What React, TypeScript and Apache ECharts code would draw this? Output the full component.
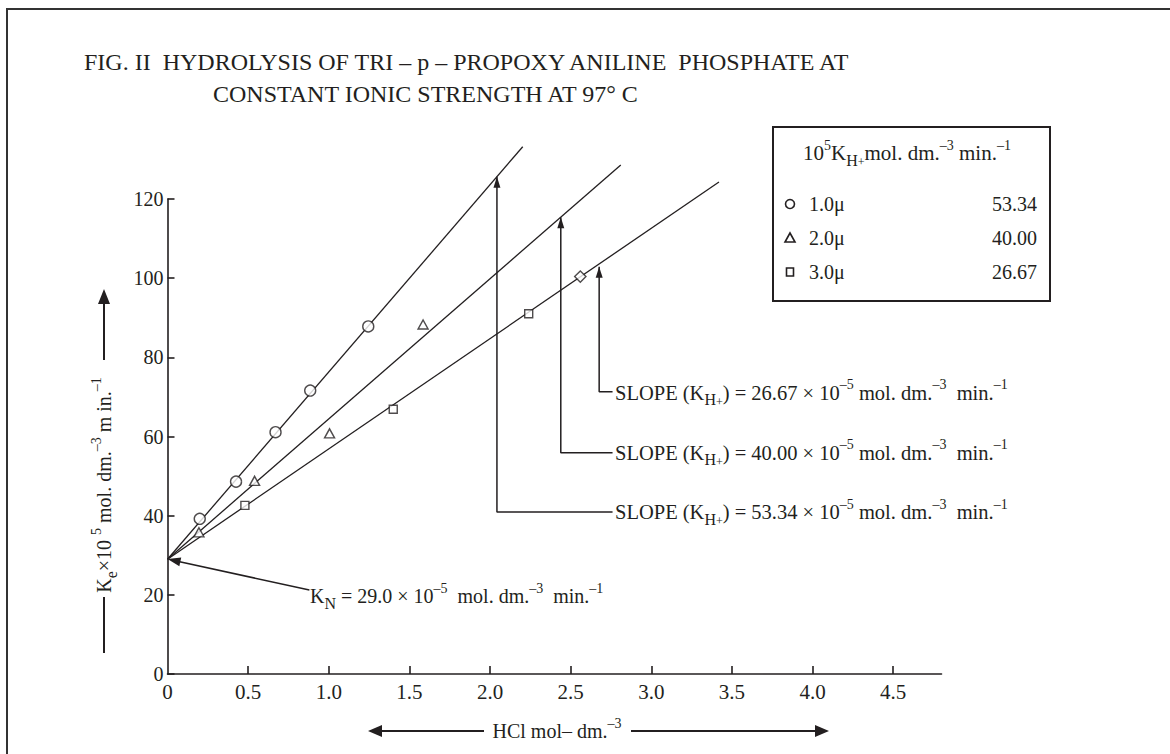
import React, { useEffect, useRef } from 'react';
import * as echarts from 'echarts';

// ---- data ----
const circleX = [0.2, 0.425, 0.67, 0.885, 1.245];
const circleY = [39.2, 48.6, 61.1, 71.6, 87.8];
const triangleX = [0.195, 0.54, 1.005, 1.585];
const triangleY = [35.8, 48.8, 60.8, 88.3];
const squareX = [0.48, 1.4, 2.24];
const squareY = [42.6, 66.9, 91.0];
const extraPoint = [2.56, 100.4];

const interceptKN = 29.0;
const fitEndX = [2.203, 2.811, 3.42];
const fitEndY = [133.2, 128.6, 124.3];

const slopeValues = ['53.34', '40.00', '26.67'];
const arrowX = [2.043, 2.439, 2.677];
const arrowTopY = [125.6, 115.4, 102.9];
const arrowElbowY = [40.9, 55.9, 71.3];
const arrowLabelX = 2.76;

const knArrowStart = [0.88, 21.2];
const knArrowEnd = [0.04, 28.7];

const xTickValues = [0, 0.5, 1, 1.5, 2, 2.5, 3, 3.5, 4, 4.5];
const yTickValues = [0, 20, 40, 60, 80, 100, 120];

const legendLabels = ['1.0μ', '2.0μ', '3.0μ'];
const legendValues = ['53.34', '40.00', '26.67'];

const titleLines = [
  'FIG. II  HYDROLYSIS OF TRI – p – PROPOXY ANILINE  PHOSPHATE AT',
  'CONSTANT IONIC STRENGTH AT 97° C',
];

const serif = '"Liberation Serif", "Times New Roman", serif';
const ink = '#231f20';

const rich = (size: number) => ({
  n: { fontFamily: serif, fontSize: size, fill: ink, lineHeight: 30 },
  sup: { fontFamily: serif, fontSize: 14, fill: ink, verticalAlign: 'top', lineHeight: 13 },
  sub: { fontFamily: serif, fontSize: 16, fill: ink, verticalAlign: 'bottom', lineHeight: 16 },
  subp: { fontFamily: serif, fontSize: 12, fill: ink, verticalAlign: 'bottom', lineHeight: 25 },
});

function buildOption() {
  const scatterStyle = { color: '#fff', borderColor: ink, borderWidth: 1.4 };
  const series: any[] = [];

  fitEndX.forEach((ex, i) => {
    series.push({
      type: 'line',
      data: [[0, interceptKN], [ex, fitEndY[i]]],
      symbol: 'none',
      clip: false,
      lineStyle: { color: ink, width: 1.3 },
      z: 2,
      silent: true,
      markLine:
        i === 0
          ? {
              silent: true,
              symbol: ['none', 'triangle'],
              symbolSize: [9, 13],
              label: { show: false },
              lineStyle: { type: 'solid', color: ink, width: 1.5 },
              data: [[{ coord: knArrowStart }, { coord: knArrowEnd }]],
            }
          : undefined,
    });
  });

  arrowX.forEach((ax, i) => {
    series.push({
      type: 'line',
      symbol: 'none',
      clip: false,
      lineStyle: { color: ink, width: 1.5 },
      itemStyle: { color: ink },
      z: 3,
      silent: true,
      data: [
        [arrowLabelX, arrowElbowY[i]],
        [ax, arrowElbowY[i]],
        {
          value: [ax, arrowTopY[i]],
          symbol: 'triangle',
          symbolSize: [7, 11],
          symbolOffset: [0, '50%'],
          itemStyle: { color: ink },
        },
      ],
    });
  });

  series.push({
    type: 'scatter',
    symbol: 'circle',
    symbolSize: 11,
    itemStyle: scatterStyle,
    z: 5,
    data: circleX.map((x, i) => [x, circleY[i]]),
  });
  series.push({
    type: 'scatter',
    symbol: 'triangle',
    symbolSize: [10, 9],
    itemStyle: scatterStyle,
    z: 5,
    data: triangleX.map((x, i) => [x, triangleY[i]]),
  });
  series.push({
    type: 'scatter',
    symbol: 'rect',
    symbolSize: 8,
    itemStyle: scatterStyle,
    z: 5,
    data: [
      ...squareX.map((x, i) => [x, squareY[i]]),
      { value: extraPoint, symbolRotate: 45 },
    ],
  });

  const graphic: any[] = [];
  // outer frame
  graphic.push({
    type: 'rect',
    shape: { x: 7, y: 9, width: 1300, height: 900 },
    style: { fill: 'none', stroke: '#333', lineWidth: 2 },
    silent: true,
    z: -1,
  });
  // title
  graphic.push({
    type: 'text',
    x: 84,
    y: 62,
    style: { text: titleLines[0], fontFamily: serif, fontSize: 24, fill: ink, align: 'left', verticalAlign: 'middle' },
  });
  graphic.push({
    type: 'text',
    x: 213,
    y: 94,
    style: { text: titleLines[1], fontFamily: serif, fontSize: 24, fill: ink, align: 'left', verticalAlign: 'middle' },
  });

  // legend box
  graphic.push({
    type: 'rect',
    shape: { x: 773, y: 127, width: 277, height: 174 },
    style: { fill: '#fff', stroke: ink, lineWidth: 2 },
    z: 10,
  });
  graphic.push({
    type: 'text',
    x: 803,
    y: 153,
    z: 11,
    style: {
      text: '{n|10}{sup|5}{n|K}{sub|H}{subp|+}{n|mol. dm.}{sup|–3}{n| min.}{sup|–1}',
      rich: rich(21),
      align: 'left',
      verticalAlign: 'middle',
    },
  });
  const rowY = [204, 238, 272];
  graphic.push({
    type: 'circle',
    z: 11,
    shape: { cx: 790, cy: rowY[0], r: 4.5 },
    style: { fill: '#fff', stroke: ink, lineWidth: 1.6 },
  });
  graphic.push({
    type: 'polygon',
    z: 11,
    shape: { points: [[790, rowY[1] - 5], [785, rowY[1] + 4], [795, rowY[1] + 4]] },
    style: { fill: '#fff', stroke: ink, lineWidth: 1.6 },
  });
  graphic.push({
    type: 'rect',
    z: 11,
    shape: { x: 786.5, y: rowY[2] - 4, width: 7, height: 8 },
    style: { fill: '#fff', stroke: ink, lineWidth: 1.6 },
  });
  legendLabels.forEach((lab, i) => {
    graphic.push({
      type: 'text',
      x: 809,
      y: rowY[i],
      z: 11,
      style: { text: lab, fontFamily: serif, fontSize: 20, fill: ink, align: 'left', verticalAlign: 'middle' },
    });
    graphic.push({
      type: 'text',
      x: 1037,
      y: rowY[i],
      z: 11,
      style: { text: legendValues[i], fontFamily: serif, fontSize: 20, fill: ink, align: 'right', verticalAlign: 'middle' },
    });
  });

  // slope labels
  const slopeLabelY = [512, 452.5, 392.5];
  slopeValues.forEach((v, i) => {
    graphic.push({
      type: 'text',
      x: 615,
      y: slopeLabelY[i],
      style: {
        text: `{n|SLOPE (K}{sub|H}{subp|+}{n|) = ${v} × 10}{sup|–5}{n| mol. dm.}{sup|–3}{n|  min.}{sup|–1}`,
        rich: rich(20.5),
        align: 'left',
        verticalAlign: 'middle',
      },
    });
  });

  // K_N label
  graphic.push({
    type: 'text',
    x: 310,
    y: 596,
    style: {
      text: `{n|K}{sub|N}{n| = ${interceptKN.toFixed(1)} × 10}{sup|–5}{n|  mol. dm.}{sup|–3}{n|  min.}{sup|–1}`,
      rich: rich(20),
      align: 'left',
      verticalAlign: 'middle',
    },
  });

  // y axis name with arrow
  graphic.push({
    type: 'text',
    x: 104,
    y: 485,
    rotation: Math.PI / 2,
    style: {
      text: '{n|K}{sub|e}{n|×10 }{sup|5}{n| mol. dm.}{sup|–3}{n| m in.}{sup|–1}',
      rich: rich(20),
      align: 'center',
      verticalAlign: 'middle',
    },
  });
  graphic.push({ type: 'line', shape: { x1: 104, y1: 597, x2: 104, y2: 653 }, style: { stroke: ink, lineWidth: 2 } });
  graphic.push({ type: 'line', shape: { x1: 104, y1: 360, x2: 104, y2: 300 }, style: { stroke: ink, lineWidth: 2 } });
  graphic.push({ type: 'polygon', shape: { points: [[104, 289], [98, 304], [110, 304]] }, style: { fill: ink } });

  // x axis name with arrows
  graphic.push({
    type: 'text',
    x: 557,
    y: 731,
    style: { text: '{n|HCl mol– dm.}{sup|–3}', rich: rich(20), align: 'center', verticalAlign: 'middle' },
  });
  graphic.push({ type: 'line', shape: { x1: 378, y1: 731, x2: 484, y2: 731 }, style: { stroke: ink, lineWidth: 2 } });
  graphic.push({ type: 'polygon', shape: { points: [[368, 731], [382, 725], [382, 737]] }, style: { fill: ink } });
  graphic.push({ type: 'line', shape: { x1: 631, y1: 731, x2: 819, y2: 731 }, style: { stroke: ink, lineWidth: 2 } });
  graphic.push({ type: 'polygon', shape: { points: [[829, 731], [815, 725], [815, 737]] }, style: { fill: ink } });

  return {
    animation: false,
    backgroundColor: '#fff',
    grid: { left: 167.5, top: 199, right: 228.5, bottom: 80, containLabel: false },
    xAxis: {
      type: 'value',
      min: 0,
      max: 4.8,
      axisLine: { show: true, lineStyle: { color: ink, width: 1.6 } },
      axisTick: {
        show: true,
        inside: true,
        length: 8,
        lineStyle: { color: ink, width: 1.6 },
        customValues: xTickValues.slice(1),
      },
      axisLabel: {
        customValues: xTickValues,
        formatter: (v: number) => (v === 0 ? '0' : v.toFixed(1)),
        fontFamily: serif,
        fontSize: 21,
        color: ink,
        margin: 7,
      },
      splitLine: { show: false },
    },
    yAxis: {
      type: 'value',
      min: yTickValues[0],
      max: yTickValues[yTickValues.length - 1],
      interval: 20,
      axisLine: { show: true, lineStyle: { color: ink, width: 1.6 } },
      axisTick: { show: true, inside: true, length: 7, lineStyle: { color: ink, width: 1.6 } },
      axisLabel: { fontFamily: serif, fontSize: 20, color: ink, margin: 4 },
      splitLine: { show: false },
    },
    series,
    graphic,
  };
}

export default function App() {
  const ref = useRef<HTMLDivElement>(null);
  useEffect(() => {
    document.body.style.margin = '0';
    if (!ref.current) return;
    const chart = echarts.init(ref.current, undefined, { renderer: 'svg' });
    chart.setOption(buildOption() as any);
    return () => chart.dispose();
  }, []);
  return <div ref={ref} style={{ width: 1170, height: 754 }} />;
}
